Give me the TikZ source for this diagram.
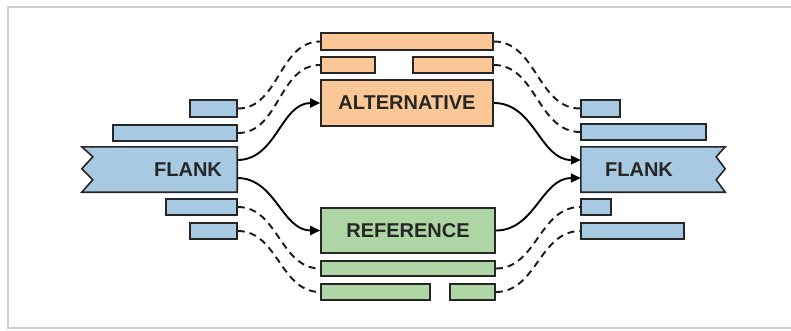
\documentclass[tikz,border=0pt]{standalone}
\usepackage{fontspec}
\setmainfont{Liberation Sans}
\usetikzlibrary{arrows.meta}
\definecolor{bluef}{HTML}{A7C9E2}
\definecolor{orangef}{HTML}{FCC796}
\definecolor{greenf}{HTML}{ADD6A4}
\definecolor{edgec}{HTML}{262626}
\definecolor{framec}{HTML}{CFCFCF}
\tikzset{
  bar/.style={draw=edgec, line width=1.6pt, inner sep=0pt, minimum height=16pt},
  bluebar/.style={bar, fill=bluef},
  orangebar/.style={bar, fill=orangef},
  greenbar/.style={bar, fill=greenf},
  flankbox/.style={inner sep=0pt, minimum height=45pt},
  lbl/.style={font=\bfseries\fontsize{20}{22}\selectfont, text=edgec, inner sep=0pt},
  flow/.style={line width=1.9pt, draw=black, -{Triangle[length=10pt,width=9pt]}},
  link/.style={line width=1.9pt, draw=black!90, dash pattern=on 7pt off 5pt}
}
\begin{document}
\begin{tikzpicture}[x=1pt,y=-1pt]
\useasboundingbox (0,0) rectangle (791,330);
\draw[framec, line width=2pt] (800,328) -- (8,328) -- (8,7) -- (800,7);
% left side
\node[bluebar, minimum width=47pt, minimum height=17pt] (lb1) at (213.5,108.5) {};
\node[bluebar, minimum width=124pt] (lb2) at (175,133) {};
\node[flankbox, minimum width=155pt] (lf) at (159.5,169.5) {};
\filldraw[fill=bluef, draw=edgec, line width=1.6pt, line join=miter] (lf.north east) -- (lf.north west) -- ++(11,10) -- ++(-11,12) -- ++(11,11) -- (lf.south west) -- (lf.south east) -- cycle;
\node[lbl] (lft) at (188,169.5) {FLANK};
\node[bluebar, minimum width=71pt] (lb3) at (201.5,207) {};
\node[bluebar, minimum width=47pt] (lb4) at (213.5,231) {};
% right side
\node[bluebar, minimum width=39pt, minimum height=17pt] (rb1) at (600.5,108.5) {};
\node[bluebar, minimum width=125pt] (rb2) at (643.5,132) {};
\node[flankbox, minimum width=144pt] (rf) at (653,169.5) {};
\filldraw[fill=bluef, draw=edgec, line width=1.6pt, line join=miter] (rf.north west) -- (rf.north east) -- ++(-9,10) -- ++(9,12) -- ++(-9,11) -- (rf.south east) -- (rf.south west) -- cycle;
\node[lbl] (rft) at (639,169.5) {FLANK};
\node[bluebar, minimum width=30pt] (rb3) at (596,207) {};
\node[bluebar, minimum width=103pt] (rb4) at (632.5,231) {};
% middle top
\node[orangebar, minimum width=172pt, minimum height=17pt] (o1) at (407,41.5) {};
\node[orangebar, minimum width=54pt] (o2a) at (348,65) {};
\node[orangebar, minimum width=80pt] (o2b) at (453,65) {};
\node[orangebar, lbl, minimum width=172pt, minimum height=46pt] (alt) at (407,103) {ALTERNATIVE};
% middle bottom
\node[greenbar, lbl, minimum width=174pt, minimum height=45pt] (ref) at (408,230.5) {REFERENCE};
\node[greenbar, minimum width=174pt, minimum height=15pt] (g1) at (408,268.5) {};
\node[greenbar, minimum width=109pt] (g2a) at (375.5,292) {};
\node[greenbar, minimum width=45pt] (g2b) at (472.5,292) {};
% solid flows
\draw[flow] ([yshift=9.5pt]lf.east) to[out=0,in=180] (alt.west);
\draw[flow] ([yshift=-8.5pt]lf.east) to[out=0,in=180] (ref.west);
\draw[flow] (alt.east) to[out=0,in=180] ([yshift=9.5pt]rf.west);
\draw[flow] (ref.east) to[out=0,in=180] ([yshift=-8.5pt]rf.west);
% dashed links
\draw[link] (lb1.east) to[out=0,in=180] (o1.west);
\draw[link] (lb2.east) to[out=0,in=180] (o2a.west);
\draw[link] (lb3.east) to[out=0,in=180] (g1.west);
\draw[link] (lb4.east) to[out=0,in=180] (g2a.west);
\draw[link] (o1.east) to[out=0,in=180] (rb1.west);
\draw[link] (o2b.east) to[out=0,in=180] (rb2.west);
\draw[link] (g1.east) to[out=0,in=180] (rb3.west);
\draw[link] (g2b.east) to[out=0,in=180] (rb4.west);
\end{tikzpicture}
\end{document}
